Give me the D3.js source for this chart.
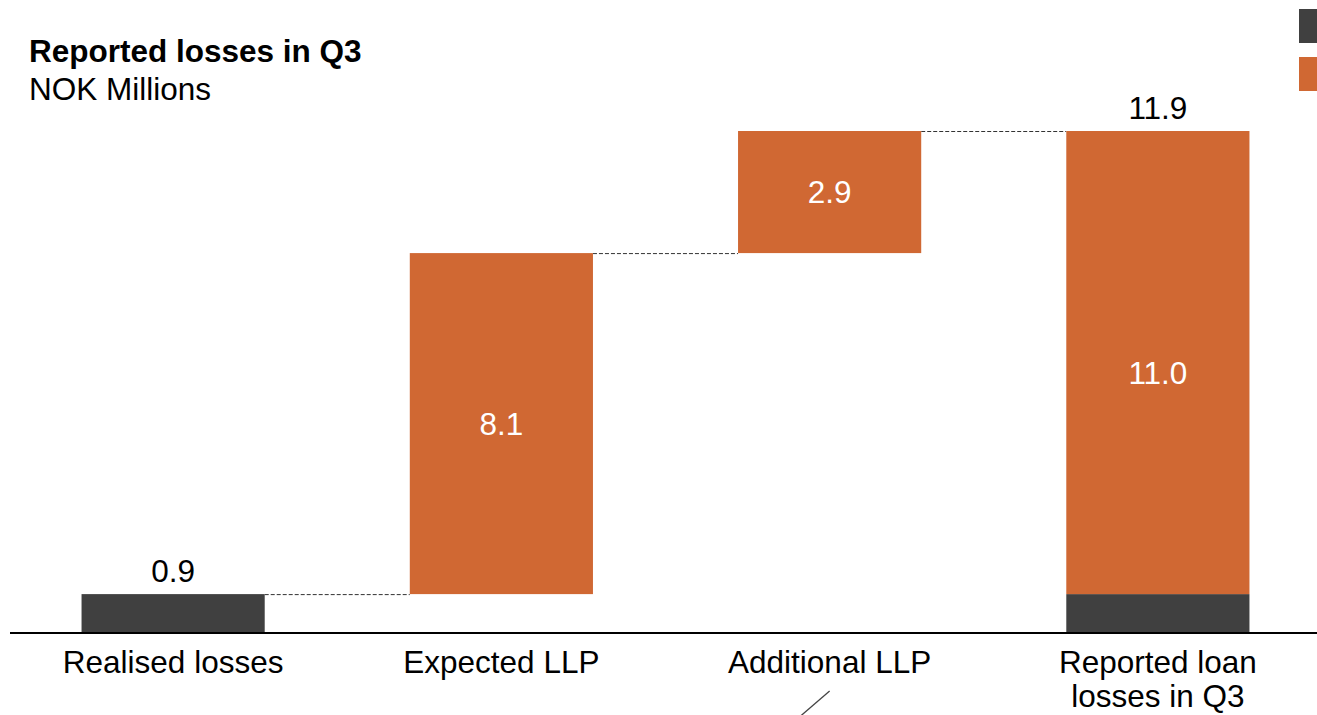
<!DOCTYPE html>
<html>
<head>
<meta charset="utf-8">
<script src="https://cdn.jsdelivr.net/npm/d3@7"></script>
<style>
  html, body { margin: 0; padding: 0; background: #fff; overflow: hidden; }
  svg { display: block; font-family: "Liberation Sans", Arial, sans-serif; }
</style>
</head>
<body>
<svg id="chart" width="1317" height="715"></svg>
<script>
// Waterfall of reported loan losses, NOK millions
const categories = ["Realised losses", "Expected LLP", "Additional LLP", "Reported loan losses in Q3"];
const tickLabels = [["Realised losses"], ["Expected LLP"], ["Additional LLP"], ["Reported loan", "losses in Q3"]];
const seriesNames = ["Realised losses", "Loan loss provisions"];
// step values of the waterfall (first is realised, the rest are provisions)
const stepValues = [0.9, 8.1, 2.9];
const stepSeries = [0, 1, 1];
// composition of the total column
const totalRealised = 0.9;
const totalProvisions = 11.0;
const totalValue = 11.9;

const colors = ["#404040", "#D06833"];
const FS = 31.5;

const svg = d3.select("#chart");
const W = 1317, H = 715;

const x = d3.scaleBand()
  .domain(categories)
  .range([9, 1322])
  .paddingInner(0.442)
  .paddingOuter(0.221);

const y = d3.scaleLinear()
  .domain([0, totalValue])
  .range([632, 131]);

// build waterfall segments
const segments = [];
let running = 0;
stepValues.forEach((v, i) => {
  segments.push({ cat: categories[i], y0: running, y1: running + v, value: v, series: stepSeries[i], nudge: 0 });
  running += v;
});
segments.push({ cat: categories[3], y0: 0, y1: totalRealised, value: totalRealised, series: 0, nudge: 0 });
segments.push({ cat: categories[3], y0: totalRealised, y1: totalRealised + totalProvisions, value: totalProvisions, series: 1, nudge: 10 });

const fmt = d3.format(".1f");

// connectors between consecutive columns
const levels = [stepValues[0], stepValues[0] + stepValues[1], totalValue];
svg.append("g").selectAll("line")
  .data(levels)
  .join("line")
  .attr("x1", (d, i) => x(categories[i]) + x.bandwidth())
  .attr("x2", (d, i) => x(categories[i + 1]))
  .attr("y1", d => y(d) + 0.5)
  .attr("y2", d => y(d) + 0.5)
  .attr("stroke", "#333")
  .attr("stroke-width", 1)
  .attr("stroke-dasharray", "4,2");

// bars
svg.append("g").selectAll("rect")
  .data(segments)
  .join("rect")
  .attr("x", d => x(d.cat))
  .attr("width", x.bandwidth())
  .attr("y", d => y(d.y1))
  .attr("height", d => y(d.y0) - y(d.y1))
  .attr("fill", d => colors[d.series]);

// labels inside the provision segments
svg.append("g").selectAll("text")
  .data(segments.filter(d => d.series === 1))
  .join("text")
  .attr("x", d => x(d.cat) + x.bandwidth() / 2)
  .attr("y", d => (y(d.y0) + y(d.y1)) / 2 + d.nudge)
  .attr("dy", "0.35em")
  .attr("text-anchor", "middle")
  .attr("fill", "#fff")
  .attr("font-size", FS)
  .text(d => fmt(d.value));

// labels above the realised column and the total column
const topLabels = [
  { cat: categories[0], value: stepValues[0] },
  { cat: categories[3], value: totalValue }
];
svg.append("g").selectAll("text")
  .data(topLabels)
  .join("text")
  .attr("x", d => x(d.cat) + x.bandwidth() / 2)
  .attr("y", d => y(d.value) - 12)
  .attr("text-anchor", "middle")
  .attr("fill", "#000")
  .attr("font-size", FS)
  .text(d => fmt(d.value));

// baseline
svg.append("line")
  .attr("x1", 10).attr("x2", W)
  .attr("y1", y(0) + 1).attr("y2", y(0) + 1)
  .attr("stroke", "#000")
  .attr("stroke-width", 2);

// category labels
const xl = svg.append("g").selectAll("text")
  .data(categories)
  .join("text")
  .attr("x", d => x(d) + x.bandwidth() / 2)
  .attr("y", 673)
  .attr("text-anchor", "middle")
  .attr("font-size", FS)
  .attr("fill", "#000");
xl.each(function(d, i) {
  const t = d3.select(this);
  tickLabels[i].forEach((line, j) => {
    t.append("tspan")
      .attr("x", x(d) + x.bandwidth() / 2)
      .attr("dy", j === 0 ? 0 : 34)
      .text(line);
  });
});

// callout stroke below the additional provisions label
const cx = x(categories[2]) + x.bandwidth() / 2;
svg.append("line")
  .attr("x1", cx).attr("y1", 691)
  .attr("x2", cx - 36).attr("y2", 722)
  .attr("stroke", "#444")
  .attr("stroke-width", 1.3);

// title
svg.append("text")
  .attr("x", 29).attr("y", 62)
  .attr("font-size", FS)
  .attr("font-weight", "bold")
  .attr("fill", "#000")
  .text("Reported losses in Q3");
svg.append("text")
  .attr("x", 29).attr("y", 100)
  .attr("font-size", FS)
  .attr("fill", "#000")
  .text("NOK Millions");

// legend swatches at the right edge
svg.append("g").selectAll("rect")
  .data(seriesNames)
  .join("rect")
  .attr("x", 1299)
  .attr("y", (d, i) => 9 + i * 48)
  .attr("width", 34)
  .attr("height", 34)
  .attr("fill", (d, i) => colors[i]);
</script>
</body>
</html>
